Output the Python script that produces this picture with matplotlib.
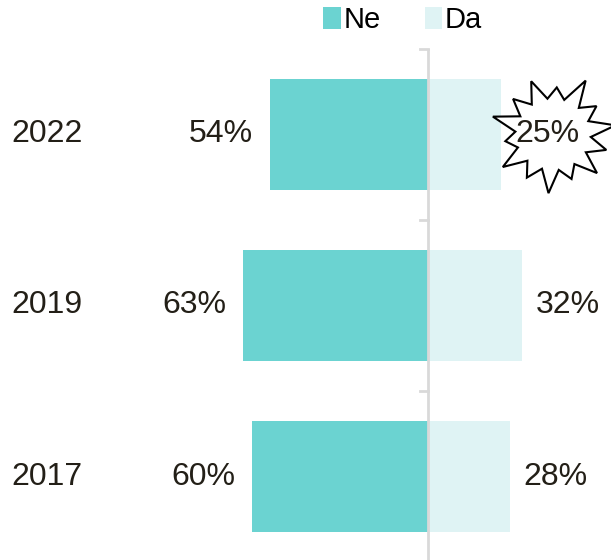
import numpy as np
import matplotlib.pyplot as plt
from matplotlib.patches import Polygon
import matplotlib.transforms as mtransforms

plt.rcParams['font.family'] = ['Liberation Sans', 'DejaVu Sans']

# Data
years = ['2017', '2019', '2022']
ne = [60, 63, 54]
da = [28, 32, 25]

ne_color = '#6bd3d1'
da_color = '#dff3f4'
text_color = '#231f17'

fig = plt.figure(figsize=(6.11, 5.60), dpi=100)
ax = fig.add_axes([0, -0.004, 1, 0.917])

y = np.arange(len(years))
ax.barh(y, [-v for v in ne], height=0.65, color=ne_color, label='Ne')
ax.barh(y, da, height=0.65, color=da_color, label='Da')

ax.set_xlim(-146, 62.5)
ax.set_ylim(-0.5, 2.5)

# value labels
for i in range(len(years)):
    ax.annotate(f'{ne[i]}%', (-ne[i], y[i]), xytext=(-12, 0), textcoords='offset points',
                ha='right', va='center', fontsize=23, color=text_color)
    ax.annotate(f'{da[i]}%', (da[i], y[i]), xytext=(10, 0), textcoords='offset points',
                ha='left', va='center', fontsize=23, color=text_color, zorder=5)
    ax.text(0.018, y[i], years[i], transform=mtransforms.blended_transform_factory(fig.transFigure, ax.transData),
            ha='left', va='center', fontsize=23, color=text_color)

# starburst around the 2022 "Da" label
idx = years.index('2022')
radii_out = [0.60, 0.50, 0.62, 0.47, 0.57, 0.52, 0.60, 0.46, 0.58, 0.50, 0.59, 0.48, 0.57, 0.53]
n = len(radii_out)
verts = []
for k in range(n):
    a_out = 2 * np.pi * k / n + 0.15
    a_in = 2 * np.pi * (k + 0.5) / n + 0.15
    verts.append((1.05 * radii_out[k] * np.cos(a_out), radii_out[k] * np.sin(a_out)))
    verts.append((1.05 * 0.36 * np.cos(a_in), 0.36 * np.sin(a_in)))
offset = mtransforms.ScaledTranslation(da[idx], y[idx], ax.transData)
shift = mtransforms.Affine2D().translate(0.52, 0)
star = Polygon(verts, closed=True, facecolor='white', edgecolor='black', lw=1.5,
               transform=shift + fig.dpi_scale_trans + offset, zorder=4, clip_on=False)
ax.add_patch(star)

# center axis line with ticks at category boundaries
ax.axvline(0, color='#d9d9d9', lw=2, zorder=3)
for b in np.arange(-0.5, len(years), 1.0):
    ax.plot([-2.8, 0], [b, b], color='#d9d9d9', lw=2, zorder=3, clip_on=False)

for s in ax.spines.values():
    s.set_visible(False)
ax.set_xticks([])
ax.set_yticks([])

fig.legend(loc='upper left', bbox_to_anchor=(0.51, 1.01), ncol=2, frameon=False,
           fontsize=21, handlelength=0.6, handleheight=0.8, handletextpad=0.1,
           columnspacing=1.5, borderaxespad=0)

fig.savefig('out.png', dpi=100)
